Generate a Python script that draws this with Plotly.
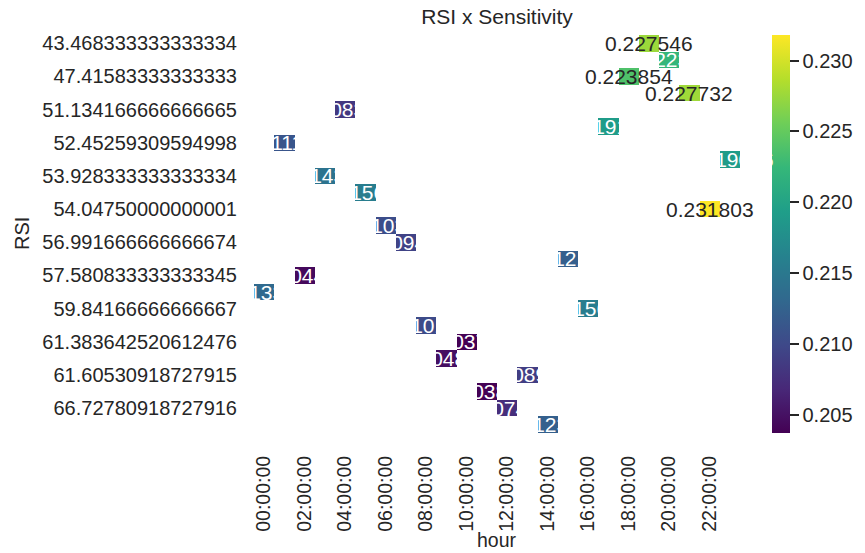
import plotly.graph_objects as go

# ---- data ----
hours = [f"{h:02d}:00:00" for h in range(24)]
hour_ticks = hours[::2]

rsi = [
    "43.468333333333334", "45.32916666666667", "47.41583333333333", "49.86666666666667",
    "51.134166666666665", "51.90833333333333", "52.45259309594998", "53.21583333333333",
    "53.928333333333334", "53.99916666666667", "54.04750000000001", "55.87416666666667",
    "56.991666666666674", "57.25833333333333", "57.580833333333345", "58.71583333333333",
    "59.84166666666667", "60.67916666666667", "61.383642520612476", "61.49530918727915",
    "61.60530918727915", "63.94780918727916", "66.72780918727916", "68.31614252061249",
]
rsi_ticks = rsi[::2]

# hour (column index) holding the single value of each RSI row
row_hour = [19, 20, 18, 21, 4, 17, 1, 23, 3, 5, 22, 6, 7, 15, 2, 0, 16, 8, 10, 9, 13, 11, 12, 14]
row_value = [
    0.227546, 0.222318, 0.223854, 0.227732, 0.208352, 0.219127, 0.211143, 0.219086,
    0.214381, 0.215624, 0.231803, 0.210376, 0.209412, 0.212185, 0.204421, 0.213368,
    0.215617, 0.210152, 0.203743, 0.204896, 0.208917, 0.203841, 0.207412, 0.212339,
]
cbar_ticks = [0.205, 0.210, 0.215, 0.220, 0.225, 0.230]

# ---- build matrix ----
z = [[None] * len(hours) for _ in rsi]
for r, (h, v) in enumerate(zip(row_hour, row_value)):
    z[r][h] = v

FONT = "Liberation Sans, Arial, sans-serif"
DARK = "#262626"

fig = go.Figure(go.Heatmap(
    z=z, x=hours, y=rsi,
    colorscale="Viridis",
    hoverongaps=False,
    colorbar=dict(
        x=1.065, xanchor="left", xpad=0, y=0.5, yanchor="middle", ypad=0,
        len=1, lenmode="fraction", thickness=18, outlinewidth=0,
        tickvals=cbar_ticks, tickformat=".3f",
        ticks="outside", ticklen=9, tickwidth=1.5, tickcolor=DARK,
        tickfont=dict(family=FONT, size=20, color=DARK),
    ),
))

# cell annotations, placed by category index on the axes
for r, (h, v) in enumerate(zip(row_hour, row_value)):
    fig.add_annotation(
        x=h, y=r, xref="x", yref="y",
        text=f"{v:g}", showarrow=False,
        font=dict(family=FONT, size=21, color=DARK if v >= 0.223 else "white"),
    )

# axis titles
fig.add_annotation(text="hour", xref="paper", yref="paper", x=0.5, y=0,
                   yshift=-107, yanchor="middle", showarrow=False,
                   font=dict(family=FONT, size=19.5, color=DARK))
fig.add_annotation(text="RSI", xref="paper", yref="paper", x=0, y=0.5,
                   xshift=-232, xanchor="center", textangle=-90, showarrow=False,
                   font=dict(family=FONT, size=20, color=DARK))

fig.update_layout(
    width=865, height=553,
    margin=dict(l=254, r=121, t=35, b=120),
    paper_bgcolor="white", plot_bgcolor="white",
    title=dict(text="RSI x Sensitivity", x=0.5, xref="paper", xanchor="center",
               y=1 - 17 / 553, yanchor="middle",
               font=dict(family=FONT, size=21, color=DARK)),
    xaxis=dict(type="category", categoryorder="array", categoryarray=hours,
               range=[-0.5, len(hours) - 0.5], autorange=False,
               tickvals=hour_ticks, tickangle=-90, ticks="", showgrid=False,
               zeroline=False, showline=False, ticklabelstandoff=18,
               tickfont=dict(family=FONT, size=19.5, color=DARK)),
    yaxis=dict(type="category", categoryorder="array", categoryarray=rsi,
               range=[len(rsi) - 0.5, -0.5], autorange=False,
               tickvals=rsi_ticks, ticks="", showgrid=False,
               zeroline=False, showline=False, ticklabelstandoff=16,
               tickfont=dict(family=FONT, size=20, color=DARK)),
)

fig.write_html("out.html")
